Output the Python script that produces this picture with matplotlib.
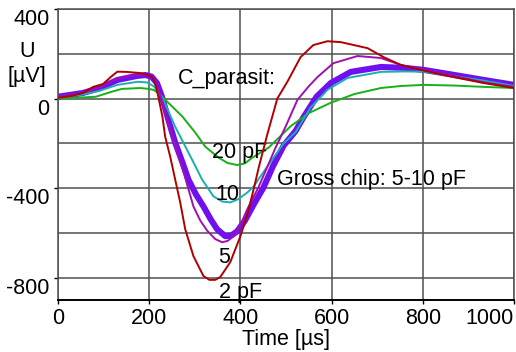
import matplotlib
matplotlib.use("Agg")
import matplotlib.pyplot as plt

plt.rcParams['font.family'] = ['Liberation Sans', 'DejaVu Sans']
plt.rcParams['axes.unicode_minus'] = False

# Curves: time [us], voltage [uV]
t_2pf = [0, 30, 55, 77, 99, 115, 130, 150, 180, 198, 207, 213, 220, 229, 235, 246, 257, 268, 279, 297,
         319, 332, 345, 356, 378, 400, 415, 429, 440, 459, 481, 503, 532, 560, 591, 620, 679, 714, 752,
         802, 870, 934, 1000]
u_2pf = [3, 12, 25, 52, 65, 95, 120, 119, 114, 105, 95, 69, 8, -81, -170, -259, -362, -464, -584, -704,
         -793, -810, -810, -797, -730, -615, -520, -406, -310, -160, 0, 75, 185, 239, 256, 252, 225, 185, 150,
         125, 95, 69, 47]

t_5pf = [0, 55, 92, 130, 173, 192, 205, 215, 226, 240, 258, 277, 297, 312, 327, 345, 360, 372, 385, 400,
         415, 440, 458, 477, 499, 525, 550, 569, 604, 657, 708, 752, 802, 870, 934, 1000]
u_5pf = [8, 27, 50, 90, 106, 108, 100, 70, 8, -100, -215, -340, -482, -545, -590, -628, -642, -636, -615, -565,
         -495, -395, -310, -220, -126, -6, 55, 96, 158, 190, 181, 150, 128, 100, 72, 52]

t_10pf = [0, 55, 92, 130, 175, 195, 210, 228, 257, 286, 305, 316, 341, 360, 378, 395, 415, 429, 444, 470,
          495, 521, 554, 580, 591, 635, 708, 760, 802, 870, 934, 1000]
u_10pf = [5, 18, 35, 61, 75, 72, 55, 8, -126, -241, -317, -362, -437, -460, -464, -450, -420, -393, -348, -272,
          -200, -150, -40, 15, 39, 92, 119, 121, 120, 100, 80, 56]

t_20pf = [0, 55, 83, 117, 140, 180, 200, 210, 220, 242, 273, 301, 323, 352, 372, 393, 410, 426, 444, 462,
          510, 550, 598, 650, 708, 752, 802, 870, 934, 1000]
u_20pf = [0, 5, 8, 30, 43, 47, 43, 38, 25, -19, -81, -152, -215, -264, -288, -297, -290, -264, -242, -219,
          -124, -65, -19, 20, 47, 56, 61, 58, 52, 47]

# thick band: large chip
t_chip = [0, 55, 92, 130, 173, 192, 205, 217, 228, 242, 257, 273, 286, 303, 319, 335, 349, 367, 380, 393,
          410, 430, 450, 472, 495, 521, 538, 567, 598, 642, 708, 760, 802, 870, 934, 1000]
u_chip = [8, 25, 47, 83, 101, 105, 98, 69, 8, -95, -197, -286, -362, -430, -482, -540, -584, -615, -612, -593,
          -545, -470, -400, -300, -210, -145, -85, 8, 69, 119, 141, 137, 128, 105, 83, 61]

x_ticks = [0, 200, 400, 600, 800, 1000]
y_ticks = [-800, -400, 0, 400]
y_grid = [-600, -200, 200]

fig = plt.figure(figsize=(5.16, 3.52), dpi=100)
ax = fig.add_axes([58 / 516, 1 - 300 / 352, 456 / 516, 291 / 352])

ax.plot(t_chip, u_chip, color='#7010f0', lw=4.4, zorder=2, solid_capstyle='butt')
ax.plot(t_20pf, u_20pf, color='#18b018', lw=1.4, zorder=3)
ax.plot(t_10pf, u_10pf, color='#18b0b0', lw=1.4, zorder=3)
ax.plot(t_5pf, u_5pf, color='#a010b0', lw=1.4, zorder=3)
ax.plot(t_2pf, u_2pf, color='#b00000', lw=1.4, zorder=4)

ax.set_xlim(0, 1000)
ax.set_ylim(-900, 400)
ax.set_xticks(x_ticks)
ax.set_yticks(y_ticks)
ax.set_yticks(y_grid, minor=True)
ax.grid(True, which='both', color='#505050', lw=1.1)
ax.set_axisbelow(True)
ax.tick_params(which='both', labelsize=15.5, length=3, width=1, pad=3, colors='black')
ax.tick_params(axis='y', which='minor', length=0)
for lab in ax.get_yticklabels():
    lab.set_verticalalignment('top')
ax.get_xticklabels()[-1].set_horizontalalignment('right')

for side in ['left', 'top', 'right']:
    ax.spines[side].set_color('#505050')
    ax.spines[side].set_linewidth(1.1)
ax.spines['bottom'].set_linewidth(1.4)

# labels inside the plot
fs = 15.5
ax.text(262, 66, 'C_parasit:', fontsize=fs, va='baseline')
ax.text(338, -266, '20 pF', fontsize=fs, va='baseline')
ax.text(345, -455, '10', fontsize=fs, va='baseline')
ax.text(352, -733, '5', fontsize=fs, va='baseline')
ax.text(352, -890, '2 pF', fontsize=fs, va='baseline')
ax.text(481, -388, 'Gross chip: 5-10 pF', fontsize=fs, va='baseline')

fig.text(27 / 516, 1 - 57 / 352, 'U', fontsize=fs, ha='center', va='baseline')
fig.text(27 / 516, 1 - 82 / 352, '[µV]', fontsize=fs, ha='center', va='baseline')
fig.text(286 / 516, 7 / 352, 'Time [µs]', fontsize=fs, ha='center', va='baseline')

fig.savefig('out.png', dpi=100)
